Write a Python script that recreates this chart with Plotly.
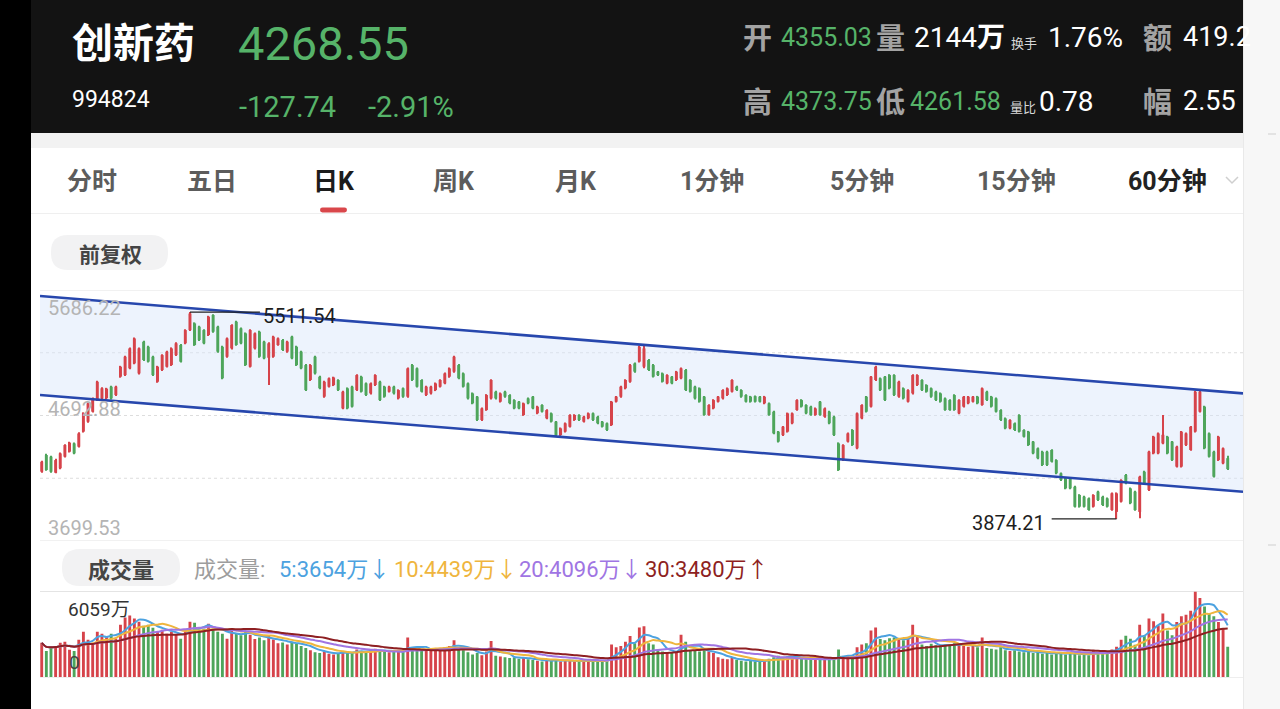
import plotly.graph_objects as go
import pandas as pd

W, H = 1280, 709

# ---------------- data ----------------
opens = [4248, 4380, 4367, 4240, 4275, 4367, 4406, 4472, 4446, 4565,
         4644, 4723, 4815, 4828, 4830, 4921, 4855, 5000, 5013, 5066,
         5105, 5026, 5277, 5237, 5158, 4960, 5053, 5079, 5092, 5171,
         5251, 5264, 5369, 5422, 5396, 5369, 5330, 5488, 5396, 5237,
         5158, 5224, 5435, 5382, 5343, 5079, 5224, 5356, 5277, 5150,
         5158, 5251, 5290, 5198, 5317, 5237, 5198, 5092, 4974, 5158,
         5000, 4842, 4921, 4934, 4974, 4749, 4908, 4921, 4894, 5000,
         4947, 4868, 4934, 4960, 4921, 4881, 4921, 4828, 4908, 4842,
         5092, 5066, 4974, 4855, 4868, 4894, 4921, 4947, 5000, 5040,
         5092, 5026, 4947, 4868, 4842, 4657, 4736, 4828, 4881, 4802,
         4881, 4855, 4815, 4802, 4697, 4828, 4842, 4710, 4776, 4670,
         4710, 4644, 4538, 4565, 4604, 4657, 4697, 4644, 4670, 4710,
         4683, 4644, 4631, 4617, 4802, 4842, 4908, 4960, 5105, 5119,
         5079, 5132, 5092, 5040, 5026, 4947, 5000, 4974, 4987, 5053,
         4974, 4921, 4908, 4842, 4697, 4749, 4802, 4828, 4855, 4881,
         4921, 4894, 4855, 4842, 4846, 4842, 4789, 4789, 4723, 4565,
         4538, 4565, 4631, 4736, 4815, 4776, 4763, 4697, 4802, 4683,
         4723, 4683, 4472, 4340, 4486, 4578, 4433, 4670, 4842, 4763,
         4974, 4987, 5000, 5013, 5013, 4842, 4908, 4802, 4868, 4934,
         4974, 4934, 4908, 4881, 4868, 4828, 4815, 4855, 4710, 4763,
         4789, 4802, 4842, 4776, 4881, 4842, 4828, 4736, 4670, 4591,
         4631, 4697, 4578, 4565, 4486, 4433, 4406, 4406, 4420, 4340,
         4235, 4195, 4195, 4129, 4064, 4050, 4037, 3971, 4090, 4050,
         4037, 3945, 3930, 4011, 4222, 4116, 4090, 3930, 4248, 4103,
         4393, 4393, 4472, 4525, 4486, 4288, 4288, 4459, 4420, 4565,
         4723, 4763, 4551, 4406, 4340, 4314, 4355.03]

closes = [4327, 4261, 4248, 4340, 4393, 4459, 4478, 4393, 4551, 4710,
          4789, 4828, 4960, 4908, 4905, 4828, 4921, 5079, 5158, 5224,
          5303, 5224, 5132, 5119, 5013, 5079, 5171, 5198, 5224, 5264,
          5119, 5369, 5500, 5251, 5290, 5264, 5475, 5356, 5198, 4987,
          5303, 5409, 5251, 5264, 5092, 5369, 5343, 5158, 5145, 5264,
          5317, 5303, 5211, 5277, 5145, 5092, 5066, 4894, 5092, 5026,
          4908, 4960, 4987, 4994, 4894, 4881, 4749, 4763, 5013, 4881,
          4855, 4947, 5013, 4815, 4842, 4921, 4868, 4894, 4842, 5066,
          4974, 4921, 4881, 4921, 4921, 4947, 4974, 5026, 5066, 5158,
          4987, 4921, 4828, 4789, 4657, 4749, 4855, 4974, 4828, 4868,
          4842, 4789, 4749, 4749, 4789, 4789, 4749, 4763, 4723, 4736,
          4644, 4538, 4591, 4631, 4697, 4697, 4657, 4683, 4710, 4657,
          4631, 4604, 4578, 4802, 4842, 4921, 4974, 5092, 5040, 5237,
          5224, 5053, 5000, 5013, 4960, 5013, 4947, 5040, 5066, 4894,
          4881, 4828, 4802, 4697, 4776, 4815, 4842, 4894, 4908, 4974,
          4894, 4842, 4802, 4802, 4802, 4802, 4842, 4697, 4551, 4486,
          4604, 4710, 4710, 4815, 4763, 4710, 4697, 4749, 4697, 4749,
          4631, 4538, 4261, 4459, 4551, 4459, 4710, 4776, 4723, 5000,
          5079, 4894, 4815, 4908, 4855, 4960, 4828, 4894, 5013, 5013,
          4894, 4881, 4842, 4815, 4802, 4736, 4736, 4736, 4815, 4842,
          4842, 4842, 4789, 4908, 4815, 4763, 4723, 4657, 4591, 4657,
          4578, 4565, 4525, 4459, 4393, 4354, 4301, 4301, 4327, 4235,
          4182, 4116, 4116, 3971, 3971, 3971, 3945, 4064, 4024, 3984,
          3971, 4077, 4077, 4182, 4156, 3998, 3945, 4209, 4156, 4406,
          4525, 4551, 4540, 4393, 4340, 4446, 4565, 4551, 4604, 4881,
          4881, 4433, 4367, 4209, 4525, 4433, 4268.55]

highs = [4335, 4390, 4375, 4350, 4400, 4466, 4485, 4480, 4560, 4718,
         4795, 4836, 4968, 4916, 4912, 4928, 4928, 5086, 5166, 5232,
         5310, 5232, 5285, 5245, 5166, 5086, 5178, 5205, 5232, 5272,
         5258, 5376, 5511.54, 5430, 5404, 5376, 5482, 5495, 5404, 5245,
         5310, 5416, 5442, 5390, 5350, 5376, 5350, 5364, 5285, 5272,
         5324, 5310, 5298, 5285, 5324, 5245, 5205, 5100, 5100, 5166,
         5008, 4968, 4994, 5000, 4980, 4888, 4915, 4928, 5020, 5008,
         4954, 4954, 5020, 4968, 4928, 4928, 4928, 4900, 4915, 5073,
         5100, 5073, 4980, 4928, 4928, 4954, 4980, 5033, 5073, 5166,
         5100, 5033, 4954, 4875, 4848, 4756, 4862, 4980, 4888, 4875,
         4888, 4862, 4822, 4808, 4795, 4835, 4848, 4770, 4782, 4742,
         4716, 4650, 4598, 4637, 4703, 4703, 4703, 4690, 4716, 4716,
         4690, 4650, 4637, 4808, 4848, 4928, 4980, 5100, 5112, 5245,
         5245, 5140, 5100, 5046, 5033, 5020, 5006, 5046, 5073, 5060,
         4980, 4928, 4915, 4848, 4782, 4822, 4848, 4900, 4915, 4980,
         4928, 4900, 4862, 4848, 4852, 4848, 4848, 4795, 4730, 4571,
         4610, 4716, 4716, 4822, 4822, 4782, 4770, 4756, 4808, 4756,
         4730, 4690, 4480, 4466, 4558, 4585, 4716, 4782, 4848, 5006,
         5086, 4994, 5006, 5020, 5020, 4968, 4915, 4900, 5020, 5020,
         4980, 4940, 4915, 4888, 4875, 4835, 4822, 4862, 4822, 4848,
         4848, 4848, 4848, 4915, 4888, 4848, 4835, 4742, 4677, 4663,
         4637, 4703, 4584, 4571, 4492, 4440, 4413, 4413, 4426, 4347,
         4242, 4202, 4202, 4136, 4070, 4057, 4044, 4070, 4097, 4057,
         4044, 4084, 4084, 4189, 4229, 4123, 4097, 4216, 4255, 4413,
         4532, 4558, 4697, 4532, 4492, 4453, 4571, 4558, 4610, 4888,
         4888, 4770, 4558, 4413, 4532, 4440, 4373.75]

lows = [4240, 4255, 4240, 4235, 4268, 4360, 4400, 4386, 4440, 4558,
        4636, 4716, 4808, 4820, 4822, 4820, 4848, 4992, 5006, 5058,
        5098, 5018, 5125, 5112, 5006, 4952, 5046, 5072, 5085, 5164,
        5112, 5256, 5362, 5244, 5283, 5256, 5322, 5348, 5190, 4980,
        5150, 5216, 5244, 5256, 5085, 5072, 5216, 5150, 5138, 4934,
        5150, 5244, 5204, 5190, 5138, 5085, 5058, 4886, 4966, 5018,
        4900, 4834, 4914, 4926, 4886, 4742, 4742, 4756, 4886, 4874,
        4848, 4860, 4926, 4808, 4834, 4874, 4860, 4820, 4834, 4834,
        4966, 4914, 4874, 4848, 4860, 4886, 4914, 4940, 4992, 5032,
        4980, 4914, 4820, 4782, 4650, 4650, 4730, 4820, 4820, 4795,
        4834, 4782, 4742, 4742, 4690, 4782, 4742, 4703, 4716, 4663,
        4637, 4531, 4531, 4558, 4597, 4650, 4650, 4637, 4663, 4650,
        4624, 4597, 4571, 4610, 4795, 4834, 4900, 4952, 5032, 5112,
        5066, 5046, 4994, 5006, 4954, 4940, 4940, 4966, 4980, 4886,
        4874, 4820, 4795, 4690, 4690, 4742, 4795, 4820, 4848, 4874,
        4886, 4834, 4795, 4795, 4795, 4795, 4782, 4690, 4544, 4479,
        4531, 4558, 4624, 4730, 4756, 4703, 4690, 4690, 4690, 4676,
        4624, 4531, 4254, 4333, 4479, 4452, 4426, 4663, 4716, 4756,
        4966, 4886, 4808, 4900, 4848, 4834, 4820, 4795, 4860, 4926,
        4886, 4874, 4834, 4808, 4795, 4730, 4730, 4730, 4703, 4756,
        4782, 4795, 4782, 4770, 4808, 4756, 4716, 4650, 4584, 4584,
        4571, 4558, 4518, 4452, 4386, 4347, 4294, 4294, 4320, 4228,
        4175, 4109, 4109, 3964, 3964, 3964, 3938, 3964, 4017, 3977,
        3964, 3938, 3874.21, 4004, 4149, 3991, 3938, 3880, 4149, 4096,
        4386, 4386, 4466, 4386, 4333, 4281, 4281, 4452, 4413, 4558,
        4716, 4426, 4360, 4202, 4333, 4307, 4261.58]

volumes = [2420, 1850, 2070, 2140, 2420, 2500, 1925, 1850, 2640, 3210,
           2640, 2420, 3210, 3070, 2850, 3070, 2710, 3710, 4210, 4350,
           4140, 3920, 3640, 3710, 3490, 3210, 3350, 3070, 3210, 2990,
           2710, 3210, 3920, 3850, 3350, 3420, 3780, 3350, 3210, 3070,
           2710, 3350, 3100, 2950, 3250, 3000, 2700, 2800, 2600, 2900,
           2650, 2400, 2450, 2300, 2500, 2350, 2200, 2050, 1900, 1750,
           1700, 1800, 1650, 1600, 1700, 1850, 1750, 1700, 1950, 1850,
           1800, 1900, 2000, 1850, 1800, 1750, 1850, 1900, 1800, 2800,
           2100, 2000, 1900, 1850, 1950, 2000, 2050, 2100, 2200, 2600,
           2100, 1900, 1750, 1600, 1700, 1550, 1800, 2550, 1500, 1450,
           1400, 1350, 1400, 1300, 1350, 1250, 1200, 1150, 1100, 1200,
           1150, 1250, 1100, 1150, 1200, 1100, 1080, 1150, 1200, 1100,
           1150, 1100, 1200, 2300, 2100, 2200, 2500, 2900, 2400, 3500,
           3600, 2400, 2300, 1900, 1800, 1700, 1750, 1800, 3000, 2500,
           1900, 1850, 1800, 1900, 1800, 1700, 1400, 1300, 1250, 1350,
           1200, 1150, 1100, 1150, 1100, 1200, 1150, 1300, 1400, 1500,
           1400, 1450, 1350, 1400, 1300, 1250, 1300, 1250, 1200, 1250,
           1300, 1350, 1950, 1400, 1500, 1450, 2100, 2300, 2400, 3300,
           3500, 2700, 2600, 2750, 2800, 2650, 2600, 2700, 3700, 2900,
           2300, 2200, 2350, 2250, 2200, 2300, 2250, 2400, 2300, 2200,
           2150, 2200, 2100, 2800, 2050, 2000, 1950, 2100, 1900, 1850,
           1900, 1800, 1750, 1850, 1700, 1750, 1650, 1700, 1600, 1750,
           1650, 1600, 1700, 1650, 1550, 1600, 1550, 1850, 1750, 1800,
           1850, 1950, 2140, 2640, 2920, 2710, 2280, 3700, 2950, 4150,
           3950, 3650, 4500, 3300, 2950, 3900, 4300, 4420, 4700, 6059,
           5600, 5000, 4500, 4300, 3900, 3450, 2144]

price_ticks = [5686.22, 4692.88, 3699.53]
price_tick_labels = ["5686.22", "4692.88", "3699.53"]
vol_max = 6059

# drawn channel (trend lines) endpoints
channel_x = [-0.37, 259.3]
channel_upper = [5638.7, 4867.8]
channel_lower = [4855.1, 4089.8]

# marked extremes
high_mark = dict(x_from=32, x_to=47.1, value=5511.54, label="5511.54")
low_mark = dict(x_from=218.0, x_to=232, value=3874.21, label="3874.21")

ma_periods = [5, 10, 20, 30]
ma_colors = ["#4ca2e0", "#efb53e", "#a075e3", "#8e1f22"]
ma_labels = ["5:3654万↓", "10:4439万↓", "20:4096万↓", "30:3480万↑"]

RED = "#d6434a"
GREEN = "#4ea55b"
HGREEN = "#56b369"

idx = list(range(len(closes)))


def X(px):
    return px / W


def Y(py):
    return 1 - py / H


# ---------------- traces ----------------
fig = go.Figure()

# candles drawn as wick bars + body bars (from the OHLC lists)
up = [c >= o for o, c in zip(opens, closes)]
cand_colors = [RED if u else GREEN for u in up]
fig.add_trace(go.Bar(x=idx, y=[h - l for h, l in zip(highs, lows)], base=lows,
                     width=0.26, marker=dict(color=cand_colors, line=dict(width=0), opacity=1),
                     showlegend=False, hoverinfo="skip", xaxis="x", yaxis="y"))
fig.add_trace(go.Bar(x=idx, y=[max(abs(c - o), 6) for o, c in zip(opens, closes)],
                     base=[min(o, c) for o, c in zip(opens, closes)],
                     width=0.64, marker=dict(color=cand_colors, line=dict(width=0), opacity=1),
                     showlegend=False, hoverinfo="skip", xaxis="x", yaxis="y"))

for ys in (channel_upper, channel_lower):
    fig.add_trace(go.Scatter(x=channel_x, y=ys, mode="lines",
                             line=dict(color="#2747ad", width=2.6),
                             showlegend=False, hoverinfo="skip",
                             xaxis="x", yaxis="y"))

fig.add_trace(go.Bar(x=idx, y=volumes, marker=dict(color=cand_colors, line=dict(width=0), opacity=1),
                     width=0.62, showlegend=False, xaxis="x2", yaxis="y2"))

vol_s = pd.Series(volumes, dtype=float)
for n, col in zip(ma_periods, ma_colors):
    ma = vol_s.rolling(n, min_periods=1).mean()
    fig.add_trace(go.Scatter(x=idx, y=ma, mode="lines",
                             line=dict(color=col, width=2, shape="spline", smoothing=0.6),
                             showlegend=False, hoverinfo="skip",
                             xaxis="x2", yaxis="y2"))

# ---------------- shapes ----------------
shapes = []


def rect(x0, y0, x1, y1, color):
    shapes.append(dict(type="rect", xref="paper", yref="paper",
                       x0=X(x0), x1=X(x1), y0=Y(y1), y1=Y(y0),
                       fillcolor=color, line=dict(width=0), layer="below"))


def pill(x0, y0, x1, y1, r, color):
    pts = [("M", x0 + r, y0), ("L", x1 - r, y0), ("Q", x1, y0, x1, y0 + r),
           ("L", x1, y1 - r), ("Q", x1, y1, x1 - r, y1), ("L", x0 + r, y1),
           ("Q", x0, y1, x0, y1 - r), ("L", x0, y0 + r), ("Q", x0, y0, x0 + r, y0)]
    path = ""
    for p in pts:
        cmd = p[0]
        coords = p[1:]
        s = []
        for i in range(0, len(coords), 2):
            s.append(f"{X(coords[i]):.5f},{Y(coords[i + 1]):.5f}")
        path += cmd + " " + " ".join(s) + " "
    shapes.append(dict(type="path", xref="paper", yref="paper", path=path + "Z",
                       fillcolor=color, line=dict(width=0), layer="below"))


def hline(x0, x1, py, color, width=1, dash="solid"):
    shapes.append(dict(type="line", xref="paper", yref="paper",
                       x0=X(x0), x1=X(x1), y0=Y(py), y1=Y(py),
                       line=dict(color=color, width=width, dash=dash), layer="below"))


# header + side strips
rect(0, 0, 1243, 133, "#131313")
rect(0, 0, 31, 709, "#000000")
rect(31, 133, 1243, 148, "#f2f2f2")
rect(1243, 0, 1280, 709, "#f7f7f7")
shapes.append(dict(type="line", xref="paper", yref="paper", x0=X(1243.5), x1=X(1243.5),
                   y0=0, y1=1, line=dict(color="#e9e9e9", width=1), layer="below"))
hline(1268, 1276, 134, "#cfcfcf", 1)
hline(1268, 1276, 545, "#cfcfcf", 1)
# tab separator & active underline
hline(31, 1243, 213.5, "#efefef", 1)
pill(320, 207.5, 347, 212.5, 2.4, "#d9474b")
# chevron
shapes.append(dict(type="path", xref="paper", yref="paper",
                   path=f"M {X(1226)},{Y(177)} L {X(1232)},{Y(183)} L {X(1238)},{Y(177)}",
                   line=dict(color="#cfcfcf", width=1.5), layer="below"))
# pills
pill(51, 235, 168, 270, 17, "#f2f2f3")
pill(62, 549, 180, 586, 18, "#f2f2f3")

# channel fill (below the candles)
shapes.append(dict(type="path", xref="x", yref="y",
                   path=(f"M {channel_x[0]},{channel_lower[0]} L {channel_x[1]},{channel_lower[1]} "
                         f"L {channel_x[1]},{channel_upper[1]} L {channel_x[0]},{channel_upper[0]} Z"),
                   fillcolor="rgba(214,228,250,0.45)", line=dict(width=0), layer="below"))

# price grid
for k, v in enumerate([price_ticks[0], (price_ticks[0] + price_ticks[1]) / 2, price_ticks[1],
                       (price_ticks[1] + price_ticks[2]) / 2, price_ticks[2]]):
    solid = k in (0, 4)
    shapes.append(dict(type="line", xref="paper", yref="y", x0=X(40), x1=X(1243),
                       y0=v, y1=v,
                       line=dict(color="#e4e4e4" if solid else "#dddddd",
                                 width=1.2 if solid else 1,
                                 dash="solid" if solid else "dot"),
                       layer="below"))
# volume panel frame lines
hline(40, 1243, 591.5, "#e4e4e4", 1.2)
hline(40, 1243, 677.5, "#eeeeee", 1)

# extreme markers
for m in (high_mark, low_mark):
    shapes.append(dict(type="line", xref="x", yref="y", x0=m["x_from"], x1=m["x_to"],
                       y0=m["value"], y1=m["value"],
                       line=dict(color="#222222", width=1.2), layer="above"))

# ---------------- annotations ----------------
ann = []
NUM = "Roboto, Noto Sans CJK SC"
CJK = "Noto Sans CJK SC"


def txt(px, py, s, size, color, anchor="left", family=NUM, bold=False):
    if bold:
        s = "<b>" + s + "</b>"
    ann.append(dict(x=X(px), y=Y(py), xref="paper", yref="paper", text=s,
                    showarrow=False, xanchor=anchor, yanchor="middle",
                    font=dict(size=size, color=color, family=family)))


# header left
txt(70, 40, "创新药", 41, "#ffffff", family=CJK, bold=True)
txt(236, 43, "4268.55", 47, HGREEN)
txt(70, 99, "994824", 23, "#ffffff")
txt(237, 107, "-127.74", 29, HGREEN)
txt(366, 107, "-2.91%", 29, HGREEN)

# header right row 1
GRAYH = "#a3a3a3"
txt(741, 36, "开", 29, GRAYH, family=CJK, bold=True)
txt(779, 37, "4355.03", 25, HGREEN)
txt(874, 36, "量", 29, GRAYH, family=CJK, bold=True)
txt(912, 37, "2144<b>万</b>", 28, "#ffffff")
txt(1009, 42, "换手", 13, "#d8d8d8", family=CJK)
txt(1046, 37, "1.76%", 28, "#ffffff")
txt(1141, 36, "额", 29, GRAYH, family=CJK, bold=True)
txt(1181, 37, "419.2", 27, "#ffffff")
# header right row 2
txt(741, 100, "高", 29, GRAYH, family=CJK, bold=True)
txt(779, 101, "4373.75", 25, HGREEN)
txt(874, 100, "低", 29, GRAYH, family=CJK, bold=True)
txt(908, 101, "4261.58", 25, HGREEN)
txt(1008, 107, "量比", 13, "#d8d8d8", family=CJK)
txt(1037, 101, "0.78", 28, "#ffffff")
txt(1141, 100, "幅", 29, GRAYH, family=CJK, bold=True)
txt(1181, 101, "2.55", 27, "#ffffff")

# tabs
tabs = [("分时", 92, "#5c5c5c"), ("五日", 212, "#5c5c5c"),
        ("日K", 334, "#1c1c1c"), ("周K", 454, "#5c5c5c"),
        ("月K", 576, "#5c5c5c"), ("1分钟", 712, "#5c5c5c"),
        ("5分钟", 862, "#5c5c5c"), ("15分钟", 1016, "#5c5c5c"),
        ("60分钟", 1167, "#222222")]
for label, cx, col in tabs:
    txt(cx, 181, label, 25, col, anchor="center", family=NUM, bold=True)

txt(110, 253, "前复权", 21, "#444444", anchor="center", family=CJK, bold=True)

# price tick labels
for v, lab, off in zip(price_ticks, price_tick_labels, [-18, 7, 13]):
    ann.append(dict(x=X(46), y=v, xref="paper", yref="y", text=lab, showarrow=False,
                    xanchor="left", yanchor="middle", yshift=off,
                    font=dict(size=20, color="#b4b4b4", family=NUM)))

# extreme labels
ann.append(dict(x=high_mark["x_to"] + 0.2, y=high_mark["value"], xref="x", yref="y",
                text=high_mark["label"], showarrow=False, xanchor="left",
                yanchor="middle", yshift=-4,
                font=dict(size=20, color="#1e1e1e", family=NUM)))
ann.append(dict(x=low_mark["x_from"] - 1.0, y=low_mark["value"], xref="x", yref="y",
                text=low_mark["label"], showarrow=False, xanchor="right",
                yanchor="middle", yshift=-4,
                font=dict(size=20, color="#1e1e1e", family=NUM)))

# volume header
txt(121, 568, "成交量", 22, "#454545", anchor="center", family=CJK, bold=True)
txt(192, 569, "成交量:", 22, "#9d9d9d", family=NUM)
ma_x = [277, 392, 517, 643]
for lab, col, x0 in zip(ma_labels, ma_colors, ma_x):
    txt(x0, 569, lab, 22, col, family=NUM)

# volume axis labels
txt(66, 609, f"{vol_max}万", 19, "#333333")
txt(67, 662, "0", 19, "#444444")

# ---------------- layout ----------------
fig.update_layout(
    width=W, height=H,
    margin=dict(l=0, r=0, t=0, b=0),
    paper_bgcolor="#ffffff", plot_bgcolor="rgba(0,0,0,0)",
    showlegend=False, barmode="overlay",
    shapes=shapes, annotations=ann,
    xaxis=dict(domain=[X(40), X(1243)], range=[channel_x[0], channel_x[1]],
               visible=False, fixedrange=True),
    yaxis=dict(domain=[Y(541), Y(290)], range=[price_ticks[2], price_ticks[0]],
               visible=False, fixedrange=True),
    xaxis2=dict(domain=[X(40), X(1243)], range=[channel_x[0], channel_x[1]],
                visible=False, anchor="y2", matches="x"),
    yaxis2=dict(domain=[Y(677), Y(591.5)], range=[0, vol_max], visible=False,
                anchor="x2"),
)

fig.write_html("out.html",
               config={"displayModeBar": False},
               post_script="document.body.style.margin='0';document.body.style.padding='0';")
